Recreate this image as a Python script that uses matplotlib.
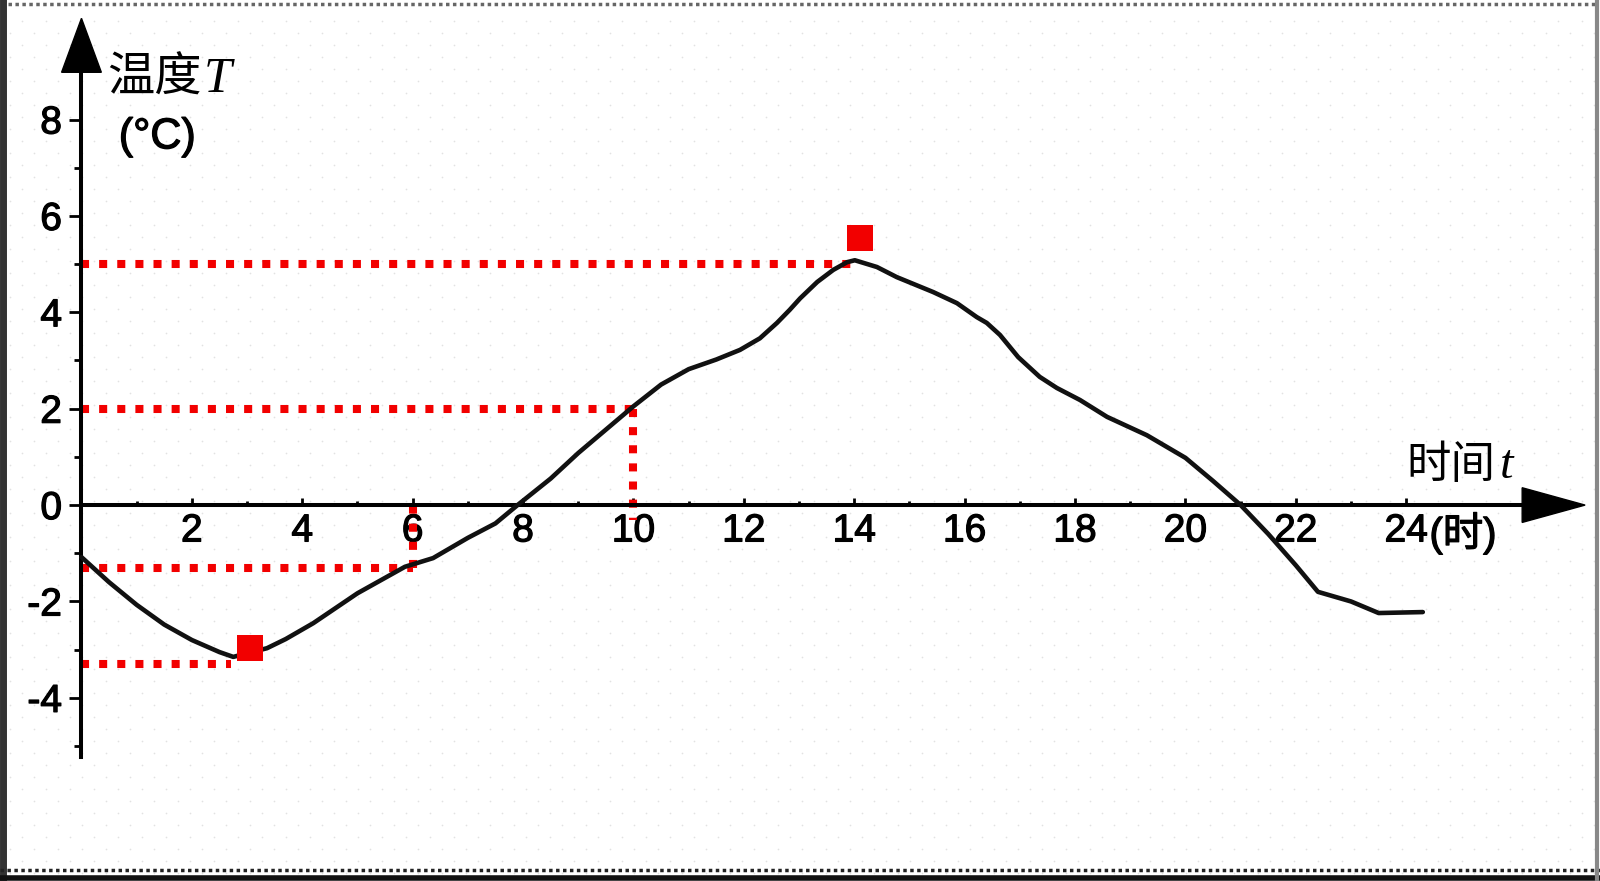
import numpy as np
import matplotlib.pyplot as plt
import matplotlib.patheffects as pe
from matplotlib.lines import Line2D
from matplotlib.patches import Polygon

plt.rcParams['font.family'] = ['Liberation Sans', 'Noto Sans CJK SC']

# temperature curve
hours = [0, 0.5, 1, 1.5, 2, 2.5, 2.75, 3.36, 3.7, 4.2, 5, 5.86, 6.37, 7, 7.5, 7.9,
         8.5, 9, 10, 10.5, 11, 11.5, 11.93, 12.29, 12.6, 12.83, 13.02, 13.33, 13.62,
         13.87, 14.01, 14.41, 14.77, 15.43, 15.86, 16.22, 16.4, 16.64, 16.97, 17.36,
         17.67, 18.09, 18.58, 19.3, 20, 20.5, 21, 21.5, 22, 22.4, 23, 23.5, 24.3]
temps = [-1.08, -1.6, -2.07, -2.48, -2.8, -3.05, -3.15, -2.97, -2.78, -2.45, -1.83,
         -1.28, -1.1, -0.68, -0.38, 0.0, 0.55, 1.08, 2.05, 2.5, 2.82, 3.02, 3.22,
         3.46, 3.78, 4.05, 4.29, 4.63, 4.88, 5.04, 5.08, 4.94, 4.73, 4.42, 4.19,
         3.9, 3.78, 3.53, 3.07, 2.66, 2.43, 2.18, 1.83, 1.45, 0.98, 0.5, 0.0, -0.6,
         -1.25, -1.8, -2.0, -2.24, -2.22]

# red guide lines: horizontal from t=0 to guide_x at guide_y
guide_x = [2.7, 6, 10, 14]
guide_y = [-3.3, -1.3, 2.0, 5.0]
# vertical guides drop from the curve value down to drop_to
drop_x = [6, 10]
drop_from = [-1.3, 2.0]
drop_to = [0.0, -0.3]

# red square markers (min and max)
mark_x = [3.05, 14.1]
mark_y = [-2.97, 5.54]

xticks = [2, 4, 6, 8, 10, 12, 14, 16, 18, 20, 22, 24]
yticks = [-4, -2, 0, 2, 4, 6, 8]

bold = [pe.withStroke(linewidth=0.9, foreground='black')]

fig = plt.figure(figsize=(16, 8.81), dpi=100)
ax = fig.add_axes([0, 0, 1, 1])
ax.set_xlim(-1.476, 27.51)
ax.set_ylim(-7.80, 10.48)

# faint dotted background
gx, gy = np.meshgrid(np.arange(10, 1600, 24), np.arange(8, 870, 12))
gx = gx + (np.arange(gy.shape[0])[:, None] % 2) * 12
ax.scatter(gx / 1600, gy / 881, s=1.5, color='#e2e2e2', transform=fig.transFigure,
           zorder=0, linewidths=0)

# axes through origin
x_end, y_top, y_bot = 26.1, 8.98, -5.23
for side in ['top', 'right']:
    ax.spines[side].set_visible(False)
ax.spines['left'].set_position(('data', 0))
ax.spines['bottom'].set_position(('data', 0))
ax.spines['left'].set_bounds(y_bot, y_top)
ax.spines['bottom'].set_bounds(0, x_end)
for side in ['left', 'bottom']:
    ax.spines[side].set_linewidth(2.9)

ax.set_xticks(xticks)
ax.set_xticklabels([str(v) for v in xticks])
ax.set_xticks(range(1, 24, 2), minor=True)
ax.set_yticks(yticks)
ax.set_yticklabels([str(v) for v in yticks])
ax.set_yticks([-5, -3, -1, 1, 3, 5, 7], minor=True)
ax.tick_params(axis='x', which='major', direction='in', length=5, width=2, pad=6, labelsize=28)
ax.tick_params(axis='x', which='minor', direction='in', length=3, width=2)
ax.tick_params(axis='y', which='major', direction='out', length=9, width=2, pad=5, labelsize=28)
ax.tick_params(axis='y', which='minor', direction='out', length=5, width=2)
for lab in ax.get_xticklabels() + ax.get_yticklabels():
    lab.set_path_effects(bold)

# arrow heads
ax.add_patch(Polygon([[-0.36, y_top], [0.36, y_top], [0, 10.1]], closed=True,
                     color='black', zorder=3))
ax.add_patch(Polygon([[x_end, -0.36], [x_end, 0.36], [27.24, 0]], closed=True,
                     color='black', zorder=3))

# guide lines
red = '#f20000'
for gxv, gyv in zip(guide_x, guide_y):
    ax.plot([0, gxv], [gyv, gyv], color=red, lw=5.8, dashes=(1, 1.25),
            dash_capstyle='butt', zorder=2)
for dx, d0, d1 in zip(drop_x, drop_from, drop_to):
    ax.plot([dx, dx], [d0, d1], color=red, lw=5.8, dashes=(1, 1.25),
            dash_capstyle='butt', zorder=2)

# curve
ax.plot(hours, temps, color='#111111', lw=3.3, solid_joinstyle='round',
        solid_capstyle='round', zorder=4)

ax.plot(mark_x, mark_y, 's', color=red, markersize=19, markeredgewidth=0, zorder=5)

# axis titles
ax.text(0.46, 8.58, '温度', fontsize=34, family='Noto Sans CJK SC', va='baseline', ha='left')
ax.text(2.22, 8.58, 'T', fontsize=36, family='Liberation Serif', style='italic',
        va='baseline', ha='left')
ax.text(1.37, 7.63, '(°C)', fontsize=31, va='center', ha='center', path_effects=bold)
ax.text(24.0, 0.57, '时间', fontsize=32, family='Noto Sans CJK SC', va='baseline', ha='left')
ax.text(25.7, 0.57, 't', fontsize=35, family='Liberation Serif', style='italic',
        va='baseline', ha='left')
ax.text(24.42, -0.58, '(时)', fontsize=29, va='center', ha='left',
        family=['Liberation Sans', 'Noto Sans CJK SC'], path_effects=bold)

# picture frame
def fline(xs, ys, **kw):
    fig.add_artist(Line2D(np.array(xs) / 1600, 1 - np.array(ys) / 881,
                          transform=fig.transFigure, **kw))

fline([8, 1595], [4, 4], color='#666666', lw=2.5, ls=(0, (1, 1)))
fline([3, 3], [0, 881], color='#333333', lw=5)
fline([0, 1600], [870, 870], color='#222222', lw=2.5, ls=(0, (1, 1)))
fline([0, 1600], [878, 878], color='#111111', lw=4)
fline([1597, 1597], [0, 881], color='#888888', lw=3)

fig.savefig('out.png', dpi=100)
